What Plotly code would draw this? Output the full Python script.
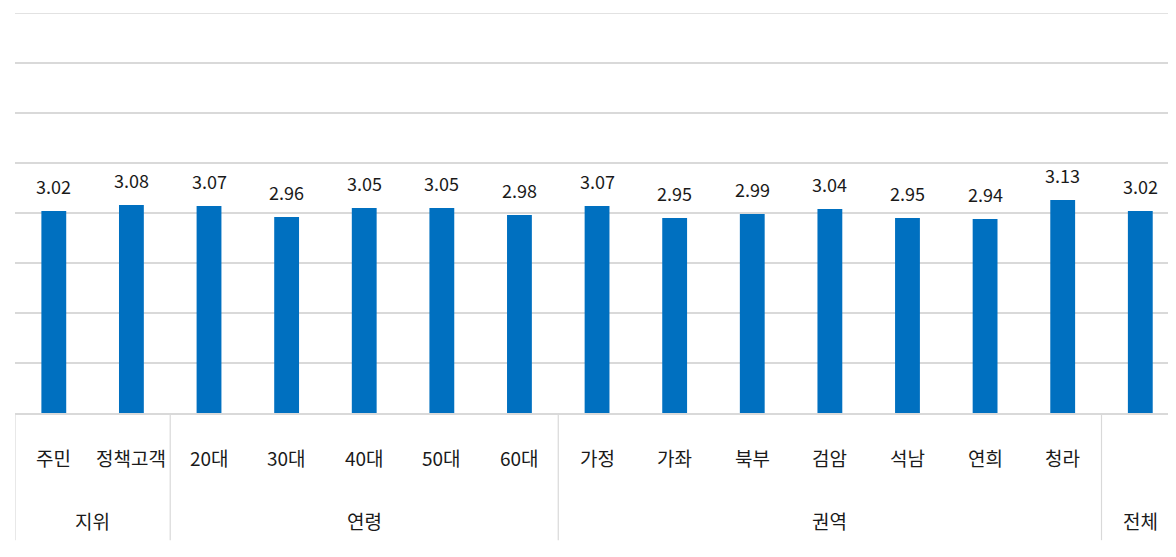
import plotly.graph_objects as go

categories = ["주민", "정책고객", "20대", "30대", "40대", "50대", "60대",
              "가정", "가좌", "북부", "검암", "석남", "연희", "청라", "전체"]
cat_labels = ["주민", "정책고객", "20대", "30대", "40대", "50대", "60대",
              "가정", "가좌", "북부", "검암", "석남", "연희", "청라", ""]
values = [3.02, 3.08, 3.07, 2.96, 3.05, 3.05, 2.98,
          3.07, 2.95, 2.99, 3.04, 2.95, 2.94, 3.13, 3.02]
groups = ["지위", "연령", "권역", "전체"]
group_sizes = [2, 5, 7, 1]

FONT = "Noto Sans CJK KR"
TXT = "#1a1a1a"
GRID = "#d9d9d9"

xs = list(range(len(categories)))

fig = go.Figure()
fig.add_trace(go.Bar(
    x=xs, y=values, width=0.32, marker=dict(color="#0070C0", line=dict(width=0)),
    hoverinfo="skip", showlegend=False,
))

annotations = []
for x, v in zip(xs, values):
    annotations.append(dict(x=x, y=v, xref="x", yref="y", text=f"{v:.2f}",
                            showarrow=False, yshift=25, yanchor="middle",
                            font=dict(family=FONT, size=18, color=TXT)))
for x, c in zip(xs, cat_labels):
    annotations.append(dict(x=x, y=-0.112, xref="x", yref="paper", text=c,
                            showarrow=False, yanchor="middle",
                            font=dict(family=FONT, size=19, color=TXT)))
shapes = []
start = 0
bounds = [-0.5]
for g, n in zip(groups, group_sizes):
    mid = start + (n - 1) / 2
    annotations.append(dict(x=mid, y=-0.268, xref="x", yref="paper", text=g,
                            showarrow=False, yanchor="middle",
                            font=dict(family=FONT, size=19, color=TXT)))
    start += n
    bounds.append(start - 0.5)
for b in bounds[:-1]:
    shapes.append(dict(type="line", xref="x", yref="paper", x0=b, x1=b,
                       y0=0, y1=-0.318, line=dict(color=GRID, width=1.2)))
# top gridline at the axis maximum
shapes.append(dict(type="line", xref="paper", yref="y", x0=0, x1=1, y0=5, y1=5,
                   line=dict(color=GRID, width=1.5), layer="below"))

fig.update_layout(
    width=1168, height=549,
    margin=dict(l=7, r=0, t=5, b=144),
    paper_bgcolor="white", plot_bgcolor="white",
    xaxis=dict(range=[-0.5, 14.46], showticklabels=False, showgrid=False,
               zeroline=False, showline=True, linecolor=GRID, linewidth=1.5,
               fixedrange=True),
    yaxis=dict(range=[1, 5], dtick=0.5, tick0=0, showticklabels=False,
               showgrid=True, gridcolor=GRID, gridwidth=1.5, zeroline=False,
               showline=False, fixedrange=True),
    annotations=annotations, shapes=shapes,
)

fig.write_html("out.html")
